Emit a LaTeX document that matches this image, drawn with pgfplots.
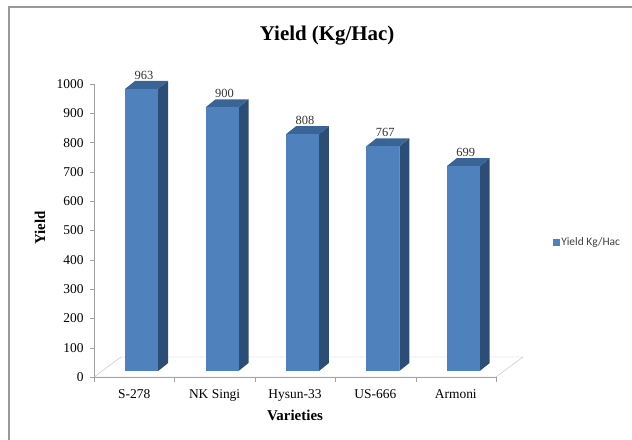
\documentclass[border=0pt]{standalone}
\usepackage{fontspec}
\setmainfont{Liberation Serif}
\newfontfamily\legendfont{Carlito}
\usepackage{pgfplots}
\usepackage{pgfplotstable}
\pgfplotsset{compat=1.18}
\definecolor{barfront}{HTML}{4F81BD}
\definecolor{barside}{HTML}{2C4D75}
\definecolor{bartop}{HTML}{3A6496}
\definecolor{axisgray}{HTML}{A0A0A0}

\pgfplotstableread{
x name y
0 S-278 963
1 {NK Singi} 900
2 Hysun-33 808
3 US-666 767
4 Armoni 699
}\yielddata

\begin{document}
\begin{tikzpicture}
\useasboundingbox (0,0) rectangle (632bp,440bp);
\draw[gray!80, line width=1.5bp] (9bp,0) -- (9bp,433bp) -- (632bp,433bp);
\begin{axis}[
  at={(94bp,63bp)}, anchor=south west,
  scale only axis, width=402bp, height=293bp,
  xmin=-0.5, xmax=4.5, ymin=0, ymax=1000,
  clip=false,
  axis x line*=bottom, axis y line*=left,
  axis line style={axisgray},
  xtick={0,...,4},
  xticklabels from table={\yielddata}{name},
  minor xtick={-0.5,0.5,...,4.5},
  major x tick style={draw=none},
  minor tick length=5bp,
  major tick length=4bp,
  tick align=outside,
  tick style={axisgray},
  ytick={0,100,...,1000},
  /pgf/number format/assume math mode=true,
  /pgf/number format/1000 sep={},
  ticklabel style={font=\fontsize{13.5}{15}\selectfont},
  xticklabel style={yshift=-5bp},
  yticklabel style={xshift=-3bp},
  title={Yield (Kg/Hac)},
  title style={at={(rel axis cs:0.58,1.146)}, anchor=center, font=\fontsize{21}{24}\selectfont\bfseries},
  xlabel={Varieties},
  xlabel style={at={(rel axis cs:0.5,-0.13)}, anchor=center, font=\fontsize{15}{17}\selectfont\bfseries},
  ylabel={Yield},
  ylabel style={at={(rel axis cs:-0.134,0.508)}, anchor=center, font=\fontsize{15}{17}\selectfont\bfseries},
  legend style={at={(rel axis cs:1.134,0.461)}, anchor=west, draw=none, fill=none,
    font=\legendfont\fontsize{11.5}{13}\selectfont, text=black!75},
]
\addlegendimage{legend image code/.code={\fill[barfront] (0bp,-3bp) rectangle (6bp,3bp);}}
\addlegendentry{Yield Kg/Hac}
\draw[axisgray!70] (axis cs:-0.5,0) -- (axis cs:4.5,0) -- (axis cs:4.836,68.3) -- (axis cs:-0.164,68.3) -- cycle;
\pgfplotsinvokeforeach{0,...,4}{
  \pgfplotstablegetelem{#1}{y}\of\yielddata
  \let\val\pgfplotsretval
  \pgfmathsetmacro\xl{#1+0.093-0.205}
  \pgfmathsetmacro\xr{#1+0.093+0.205}
  \pgfmathsetmacro\xrb{\xr+0.124}
  \pgfmathsetmacro\xlb{\xl+0.124}
  \pgfmathsetmacro\yt{\val+20.5}
  \pgfmathsetmacro\ytb{\yt+27.3}
  \pgfmathsetmacro\xc{#1+0.093+0.03}
  \edef\temp{%
    \noexpand\addplot[forget plot, fill=barside, draw=none] coordinates {(\xr,20.5) (\xrb,47.8) (\xrb,\ytb) (\xr,\yt)};
    \noexpand\addplot[forget plot, fill=bartop, draw=none] coordinates {(\xl,\yt) (\xr,\yt) (\xrb,\ytb) (\xlb,\ytb)};
    \noexpand\addplot[forget plot, fill=barfront, draw=none] coordinates {(\xl,20.5) (\xr,20.5) (\xr,\yt) (\xl,\yt)};
    \noexpand\node[font=\noexpand\fontsize{12.5}{14}\noexpand\selectfont, text=black!80, anchor=south, inner sep=1bp] at (axis cs:\xc,\ytb) {\val};
  }%
  \temp
}
\end{axis}
\end{tikzpicture}
\end{document}
